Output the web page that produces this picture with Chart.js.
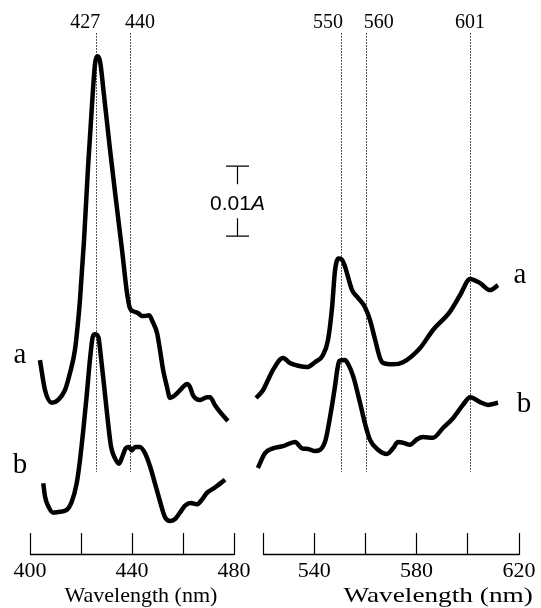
<!DOCTYPE html>
<html>
<head>
<meta charset="utf-8">
<title>Difference spectra</title>
<script src="https://cdn.jsdelivr.net/npm/chart.js@4.4.1/dist/chart.umd.min.js"></script>
<style>
  html, body { margin: 0; padding: 0; background: #fff; }
  #wrap { position: relative; width: 541px; height: 608px; overflow: hidden; }
  #wrap canvas { position: absolute; top: 0; }
  #soret { left: 0; }
  #qband { left: 240px; }
</style>
</head>
<body>
<div id="wrap">
  <canvas id="soret" width="275" height="608"></canvas>
  <canvas id="qband" width="301" height="608"></canvas>
</div>
<script>
// Soret region (400-480 nm), absorbance in mA with traces offset
const soretNmA = [403.9, 405.9, 408.6, 411.0, 413.7, 415.7, 417.6, 418.8, 419.6, 421.2, 422.7, 424.3, 425.5, 426.5, 427.5, 429.0, 431.4, 433.7, 436.1, 438.0, 439.2, 440.4, 442.4, 443.9, 445.1, 446.7, 448.2, 449.8, 451.0, 452.2, 453.7, 454.9, 456.9, 459.6, 461.6, 462.7, 463.9, 466.7, 469.4, 470.6, 472.5, 474.5, 477.6];
const soretA   = [24.7, 20.4, 18.6, 19.0, 20.4, 22.9, 26.1, 30.0, 33.3, 41.9, 51.9, 61.1, 67.0, 68.1, 67.3, 62.6, 54.7, 47.6, 40.4, 34.4, 32.1, 31.7, 31.4, 31.0, 31.0, 31.1, 30.1, 28.6, 26.1, 23.3, 20.9, 19.3, 19.7, 20.7, 21.3, 20.9, 19.7, 19.0, 19.4, 19.4, 18.3, 17.3, 16.0];

const soretNmB = [405.2, 405.9, 407.2, 409.1, 411.1, 414.4, 416.4, 418.3, 419.6, 420.9, 422.2, 423.5, 424.6, 425.5, 426.8, 427.8, 429.1, 430.5, 431.8, 433.3, 434.9, 436.2, 437.5, 438.8, 439.9, 441.2, 443.1, 445.1, 447.1, 449.0, 451.0, 452.9, 454.9, 456.9, 458.8, 460.8, 463.1, 465.4, 467.3, 469.3, 472.5, 476.5];
const soretB   = [7.1, 5.2, 3.8, 2.9, 3.0, 3.3, 4.5, 7.1, 10.4, 14.7, 19.5, 24.7, 28.0, 28.4, 28.0, 25.2, 20.9, 16.1, 12.3, 10.7, 9.9, 10.9, 12.1, 12.3, 11.8, 12.3, 12.3, 11.4, 9.5, 7.1, 4.5, 2.3, 1.7, 2.0, 2.9, 3.9, 4.3, 4.1, 4.7, 5.7, 6.5, 7.6];

// Q-band region (520-620 nm)
const qNmA = [517.3, 520.0, 522.0, 523.9, 527.8, 530.5, 533.7, 537.2, 540.3, 543.4, 545.4, 547.0, 548.1, 549.5, 550.7, 552.0, 553.2, 554.8, 557.1, 559.8, 561.8, 563.8, 565.7, 566.9, 570.8, 574.7, 581.3, 586.4, 593.0, 597.0, 600.9, 604.8, 608.7, 611.8];
const qA   = [19.3, 20.4, 21.9, 23.3, 25.0, 24.3, 23.9, 23.7, 24.4, 25.4, 27.6, 32.3, 37.4, 39.2, 39.1, 38.1, 36.6, 34.7, 33.6, 32.3, 30.4, 27.6, 25.0, 24.3, 24.1, 24.4, 26.4, 29.0, 31.6, 34.0, 36.3, 35.7, 34.7, 35.4];

const qNmB = [518.0, 520.8, 523.9, 527.8, 532.5, 535.2, 537.6, 540.3, 544.2, 546.2, 548.1, 549.0, 549.8, 552.0, 553.3, 555.3, 557.9, 559.8, 561.8, 564.9, 568.4, 570.8, 572.7, 574.7, 577.4, 580.2, 582.5, 586.4, 590.3, 594.2, 598.1, 600.9, 604.8, 607.9, 611.8];
const qB   = [9.3, 11.4, 12.1, 12.4, 13.0, 12.1, 12.0, 11.7, 13.0, 16.6, 20.9, 23.3, 24.6, 24.7, 24.1, 22.3, 18.6, 15.7, 13.3, 11.9, 11.3, 12.1, 13.0, 12.9, 12.6, 13.4, 13.7, 13.6, 15.0, 16.4, 18.3, 19.4, 18.7, 18.3, 18.6];

// marker lines (as drawn) and their printed labels
const soretMarks = [426, 439.2];
const soretMarkLabels = ['427', '440'];
const qMarks = [550.5, 560.1, 600.9];
const qMarkLabels = ['550', '560', '601'];

const soretTickLabels = [400, 440, 480];
const qTickLabels = [540, 580, 620];

const SERIF = '"Liberation Serif", "Times New Roman", serif';
const SANS = '"Liberation Sans", Arial, sans-serif';

const decor = {
  id: 'decor',
  beforeDatasetsDraw(chart, args, o) {
    const { ctx, scales: { x, y } } = chart;
    ctx.save();
    ctx.strokeStyle = '#222';
    ctx.lineWidth = 1;
    ctx.setLineDash([1.5, 1.5]);
    o.marks.forEach(m => {
      const px = Math.round(x.getPixelForValue(m)) + 0.5;
      ctx.beginPath();
      ctx.moveTo(px, y.getPixelForValue(o.markTop));
      ctx.lineTo(px, y.getPixelForValue(o.markBottom));
      ctx.stroke();
    });
    ctx.restore();
  },
  afterDraw(chart, args, o) {
    const { ctx, scales: { x, y } } = chart;
    ctx.save();
    ctx.fillStyle = '#000';
    ctx.strokeStyle = '#000';

    // axis baseline under the tick marks
    const base = x.top + 21.5;
    ctx.lineWidth = 1.3;
    ctx.beginPath();
    ctx.moveTo(x.getPixelForValue(x.min), base);
    ctx.lineTo(x.getPixelForValue(x.max), base);
    ctx.stroke();

    // peak labels
    ctx.font = '20px ' + SERIF;
    ctx.textAlign = 'center';
    ctx.textBaseline = 'alphabetic';
    o.marks.forEach((m, i) => {
      ctx.fillText(o.markLabels[i], x.getPixelForValue(m) + o.labelShift[i], 28);
    });

    // trace letters
    ctx.font = '29px ' + SERIF;
    o.traceLabels.forEach(t => {
      ctx.fillText(t.text, x.getPixelForValue(t.x), y.getPixelForValue(t.y));
    });

    // axis title (right one is printed horizontally stretched)
    ctx.font = '22px ' + SERIF;
    const tx = x.getPixelForValue(o.titleAt);
    ctx.save();
    ctx.translate(tx, 602);
    ctx.scale(o.titleStretch || 1, 1);
    ctx.fillText('Wavelength (nm)', 0, 0);
    ctx.restore();

    // 0.01 A scale bar
    if (o.bar) {
      const bx = Math.round(x.getPixelForValue(o.bar.x)) + 0.5;
      const yt = y.getPixelForValue(o.bar.top);
      const yb = y.getPixelForValue(o.bar.bottom);
      ctx.lineWidth = 1.2;
      ctx.beginPath();
      ctx.moveTo(bx - 11.5, yt); ctx.lineTo(bx + 11.5, yt);
      ctx.moveTo(bx, yt); ctx.lineTo(bx, yt + 18);
      ctx.moveTo(bx - 11.5, yb); ctx.lineTo(bx + 11.5, yb);
      ctx.moveTo(bx, yb); ctx.lineTo(bx, yb - 18);
      ctx.stroke();
      const mid = (yt + yb) / 2 + 8.5;
      ctx.font = '21px ' + SANS;
      const w1 = ctx.measureText('0.01').width;
      ctx.font = 'italic 21px ' + SANS;
      const w2 = ctx.measureText('A').width;
      const sx = bx - (w1 + w2) / 2;
      ctx.textAlign = 'left';
      ctx.font = '21px ' + SANS;
      ctx.fillText('0.01', sx, mid);
      ctx.font = 'italic 21px ' + SANS;
      ctx.fillText('A', sx + w1, mid);
    }
    ctx.restore();
  }
};

function trace(xs, ys) {
  return {
    data: xs.map((x, i) => ({ x, y: ys[i] })),
    borderColor: '#000',
    borderWidth: 4.5,
    pointRadius: 0,
    fill: false,
    clip: false,
    cubicInterpolationMode: 'monotone',
    borderCapStyle: 'butt',
    borderJoinStyle: 'round'
  };
}

function spectrumChart(id, cfg) {
  return new Chart(document.getElementById(id), {
    type: 'line',
    data: { datasets: cfg.datasets },
    options: {
      responsive: false,
      animation: false,
      events: [],
      layout: { padding: cfg.padding },
      plugins: {
        legend: { display: false },
        tooltip: { enabled: false },
        decor: cfg.decor
      },
      scales: {
        x: {
          type: 'linear',
          min: cfg.min,
          max: cfg.max,
          afterFit: s => { s.height = 75; },
          border: { display: false },
          grid: {
            drawOnChartArea: false,
            drawTicks: true,
            tickLength: 22,
            tickColor: '#000',
            tickWidth: 1.2
          },
          ticks: {
            stepSize: 20,
            autoSkip: false,
            maxRotation: 0,
            padding: 3,
            color: '#000',
            font: { family: SERIF, size: 22 },
            callback: v => cfg.tickLabels.includes(v) ? String(v) : ''
          }
        },
        y: { display: false, min: 0, max: 70 }
      }
    },
    plugins: [decor]
  });
}

spectrumChart('soret', {
  datasets: [trace(soretNmA, soretA), trace(soretNmB, soretB)],
  min: 400, max: 480,
  tickLabels: soretTickLabels,
  padding: { left: 30, right: 41, top: 43, bottom: 0 },
  decor: {
    marks: soretMarks,
    markLabels: soretMarkLabels,
    labelShift: [-11, 10],
    markTop: 71.4,
    markBottom: 8.7,
    traceLabels: [{ text: 'a', x: 396.1, y: 24.3 }, { text: 'b', x: 396.1, y: 8.6 }],
    titleAt: 443.5,
    bar: { x: 481, top: 52.4, bottom: 42.4 }
  }
});

spectrumChart('qband', {
  datasets: [trace(qNmA, qA), trace(qNmB, qB)],
  min: 520, max: 620,
  tickLabels: qTickLabels,
  padding: { left: 23, right: 22, top: 43, bottom: 0 },
  decor: {
    marks: qMarks,
    markLabels: qMarkLabels,
    labelShift: [-13, 13, 0],
    markTop: 71.4,
    markBottom: 8.7,
    traceLabels: [{ text: 'a', x: 620.4, y: 35.7 }, { text: 'b', x: 622, y: 17.3 }],
    titleAt: 588.4,
    titleStretch: 1.24
  }
});
</script>
</body>
</html>
